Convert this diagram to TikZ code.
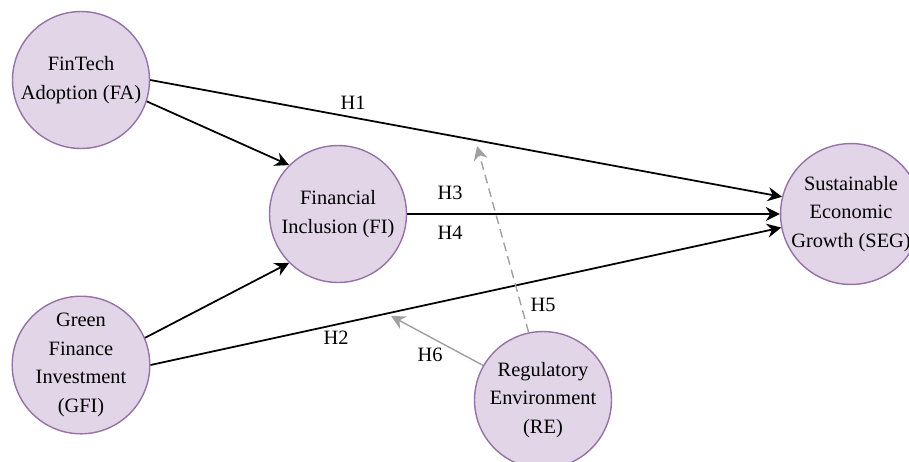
\documentclass[tikz,border=0pt]{standalone}
\usepackage{fontspec}
\setmainfont{Liberation Serif}
\usetikzlibrary{arrows.meta}

\definecolor{conFill}{HTML}{E1D5E7}
\definecolor{conBorder}{HTML}{9673A6}
\definecolor{modGray}{HTML}{A0A0A0}

\begin{document}
\begin{tikzpicture}[x=0.02cm,y=-0.02cm]
      \tikzstyle{construct}=[circle,draw=conBorder,fill=conFill,line width=0.8pt,
        minimum size=2.74cm,inner sep=0pt,align=center,
        font=\fontsize{11.6}{16.3}\selectfont]
      \tikzstyle{path}=[-{Stealth[length=8pt,width=8pt]},line width=1pt,black]
      \tikzstyle{modpath}=[-{Stealth[length=8pt,width=8pt]},line width=0.8pt,modGray]
      \tikzstyle{hyp}=[font=\fontsize{11.6}{13}\selectfont,inner sep=0pt]
      \useasboundingbox (0,0) rectangle (909,461);
      \clip (0,0) rectangle (909,461);
      % constructs
      \node [construct] (FA) at (81,80) {FinTech\\Adoption (FA)};
      \node [construct] (GFI) at (81,365) {Green\\Finance\\Investment\\(GFI)};
      \node [construct] (FI) at (338,214) {Financial\\Inclusion (FI)};
      \node [construct] (SEG) at (851,214) {Sustainable\\Economic\\Growth (SEG)};
      \node [construct] (RE) at (543,400) {Regulatory\\Environment\\(RE)};
      % direct paths
      \draw [path] (FA.east) -- (SEG.166);
      \draw [path] (FA.-18) -- (FI.135);
      \draw [path] (GFI.23) -- (FI.225);
      \draw [path] (GFI.east) -- (SEG.191);
      \draw [path] (FI.east) -- (SEG.west);
      % moderation
      \coordinate (onH1) at (477,146);
      \coordinate (onH2) at (391,316);
      \draw [modpath,dashed,dash pattern=on 5pt off 3pt] (RE.102) -- (onH1);
      \draw [modpath] (RE.150) -- (onH2);
      % labels
      \node [hyp] (h1) at (353,103) {H1};
      \node [hyp] (h2) at (336,338) {H2};
      \node [hyp] (h3) at (450,193) {H3};
      \node [hyp] (h4) at (450,233) {H4};
      \node [hyp] (h5) at (543,305) {H5};
      \node [hyp] (h6) at (430,355) {H6};
\end{tikzpicture}
\end{document}
